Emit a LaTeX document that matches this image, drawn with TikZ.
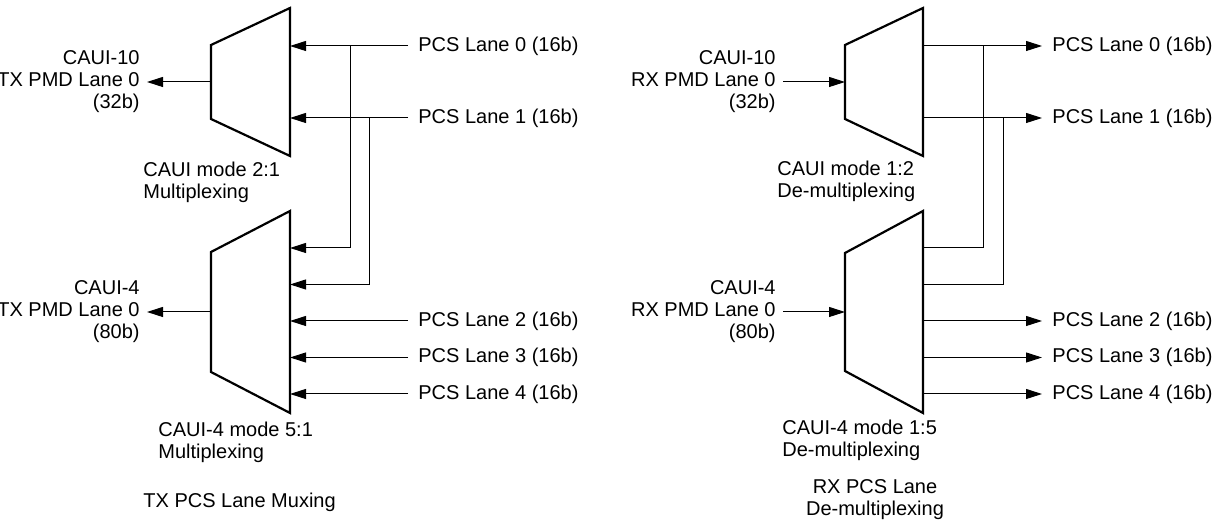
\documentclass[tikz,border=0pt]{standalone}
\usepackage{fontspec}
\setmainfont{Liberation Sans}
\usetikzlibrary{arrows.meta}

\begin{document}
\begin{tikzpicture}[x=0.5pt,y=-0.5pt,>={Triangle[length=8pt,width=5pt]},font=\fontsize{10}{11}\selectfont,
                mux/.style={line width=1.1pt},
                wire/.style={line width=0.5pt},
                lane/.style={anchor=west,inner xsep=5pt},
                pmd/.style={anchor=east,align=right,inner sep=3.5pt},
                caption/.style={anchor=west,align=left,inner sep=0pt}]
                \useasboundingbox (0,0) rectangle (1227,522);
                % TX side
                \draw[mux] (211,45)--(290,8)--(290,156)--(211,119)--cycle;
                \coordinate (txa-out) at (211,82);
                \coordinate (txa-in0) at (290,46);
                \coordinate (txa-in1) at (290,118);
                \draw[mux] (211,252)--(290,211)--(290,413)--(211,372)--cycle;
                \coordinate (txb-out) at (211,312);
                \coordinate (txb-in0) at (290,248);
                \coordinate (txb-in1) at (290,284.5);
                \coordinate (txb-in2) at (290,321);
                \coordinate (txb-in3) at (290,357.5);
                \coordinate (txb-in4) at (290,394);
                \coordinate (tx-j0) at (350,46);
                \coordinate (tx-j1) at (369,118);
                \node[pmd] (txa-pmd) at (147,82) {CAUI-10\\TX PMD Lane 0\\(32b)};
                \node[pmd] (txb-pmd) at (147,312) {CAUI-4\\TX PMD Lane 0\\(80b)};
                \node[lane] (tx-l0) at (408,46) {PCS Lane 0 (16b)};
                \node[lane] (tx-l1) at (408,118) {PCS Lane 1 (16b)};
                \node[lane] (tx-l2) at (408,321) {PCS Lane 2 (16b)};
                \node[lane] (tx-l3) at (408,357.5) {PCS Lane 3 (16b)};
                \node[lane] (tx-l4) at (408,394) {PCS Lane 4 (16b)};
                \node[caption] (txa-mode) at (143,182) {CAUI mode 2:1\\Multiplexing};
                \node[caption] (txb-mode) at (158,442) {CAUI-4 mode 5:1\\Multiplexing};
                \node[caption] (tx-title) at (143,502) {TX PCS Lane Muxing};
                \draw[wire,->] (txa-out)--(txa-pmd.east);
                \draw[wire,->] (txb-out)--(txb-pmd.east);
                \draw[wire,->] (tx-l0.west)--(txa-in0);
                \draw[wire,->] (tx-l1.west)--(txa-in1);
                \draw[wire,->] (tx-j0)|-(txb-in0);
                \draw[wire,->] (tx-j1)|-(txb-in1);
                \draw[wire,->] (tx-l2.west)--(txb-in2);
                \draw[wire,->] (tx-l3.west)--(txb-in3);
                \draw[wire,->] (tx-l4.west)--(txb-in4);
                % RX side
                \draw[mux] (845,45)--(923,8)--(923,156)--(845,119)--cycle;
                \coordinate (rxa-in) at (845,82);
                \coordinate (rxa-out0) at (923,46);
                \coordinate (rxa-out1) at (923,118);
                \draw[mux] (845,253)--(923,211)--(923,413)--(845,371)--cycle;
                \coordinate (rxb-in) at (845,312);
                \coordinate (rxb-out0) at (923,248);
                \coordinate (rxb-out1) at (923,284.5);
                \coordinate (rxb-out2) at (923,321);
                \coordinate (rxb-out3) at (923,357.5);
                \coordinate (rxb-out4) at (923,394);
                \coordinate (rx-j0) at (983,46);
                \coordinate (rx-j1) at (1003,118);
                \node[pmd] (rxa-pmd) at (783,82) {CAUI-10\\RX PMD Lane 0\\(32b)};
                \node[pmd] (rxb-pmd) at (783,312) {CAUI-4\\RX PMD Lane 0\\(80b)};
                \node[lane] (rx-l0) at (1042,46) {PCS Lane 0 (16b)};
                \node[lane] (rx-l1) at (1042,118) {PCS Lane 1 (16b)};
                \node[lane] (rx-l2) at (1042,321) {PCS Lane 2 (16b)};
                \node[lane] (rx-l3) at (1042,357.5) {PCS Lane 3 (16b)};
                \node[lane] (rx-l4) at (1042,394) {PCS Lane 4 (16b)};
                \node[caption] (rxa-mode) at (777,181) {CAUI mode 1:2\\De-multiplexing};
                \node[caption] (rxb-mode) at (782,440) {CAUI-4 mode 1:5\\De-multiplexing};
                \node[align=center,inner sep=0pt] (rx-title) at (875,500) {RX PCS Lane\\De-multiplexing};
                \draw[wire,->] (rxa-pmd.east)--(rxa-in);
                \draw[wire,->] (rxb-pmd.east)--(rxb-in);
                \draw[wire,->] (rxa-out0)--(rx-l0.west);
                \draw[wire,->] (rxa-out1)--(rx-l1.west);
                \draw[wire] (rx-j0)|-(rxb-out0);
                \draw[wire] (rx-j1)|-(rxb-out1);
                \draw[wire,->] (rxb-out2)--(rx-l2.west);
                \draw[wire,->] (rxb-out3)--(rx-l3.west);
                \draw[wire,->] (rxb-out4)--(rx-l4.west);
            \end{tikzpicture}
\end{document}
